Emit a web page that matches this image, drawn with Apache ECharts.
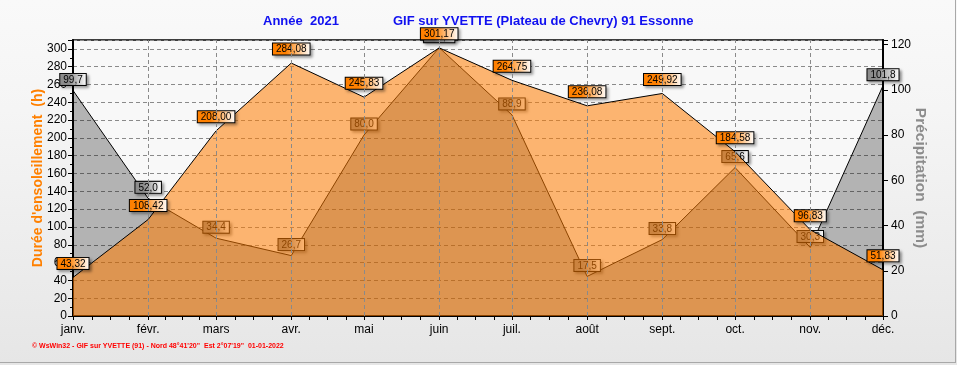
<!DOCTYPE html>
<html><head><meta charset="utf-8">
<script src="https://cdn.jsdelivr.net/npm/echarts@6/dist/echarts.min.js"></script>
<style>html,body{margin:0;padding:0;background:#f4f4f4}#c{width:957px;height:365px}</style>
</head><body><div id="c"></div>
<script>
const months = ['janv.','févr.','mars','avr.','mai','juin','juil.','août','sept.','oct.','nov.','déc.'];
const monthDates = ['2021-01-01','2021-02-01','2021-03-01','2021-04-01','2021-05-01','2021-06-01','2021-07-01','2021-08-01','2021-09-01','2021-10-01','2021-11-01','2021-12-01'];
const sunshine = [43.32,108.42,208.00,284.08,245.83,301.17,264.75,236.08,249.92,184.58,96.83,51.83];
const precipitation = [99.7,52.0,34.4,26.7,80.0,118.6,88.9,17.5,33.8,65.6,30.3,101.8];
const titleYear = 'Année  2021';
const titleStation = 'GIF sur YVETTE (Plateau de Chevry) 91 Essonne';
const footer = '\u00a9 WsWin32 - GIF sur YVETTE (91) - Nord 48\u00b041\'20"  Est 2\u00b007\'19"  01-01-2022';

// day index (days since Jan 1) of each month date
function dayOf(s){const p=s.split('-').map(Number);return Math.round((Date.UTC(p[0],p[1]-1,p[2])-Date.UTC(p[0],0,1))/86400000);}
const T = monthDates.map(dayOf);
const tickVals = [];
for (let i=0;i<T.length-1;i++){for(let k=0;k<4;k++){tickVals.push(T[i]+(T[i+1]-T[i])*k/4);}}
tickVals.push(T[T.length-1]);
function monthName(v){const i=T.findIndex(t=>Math.abs(t-v)<0.01);return i>=0?months[i]:'';}

function grad(c1,c2){return {type:'linear',x:0,y:0,x2:1,y2:0,colorStops:[{offset:0,color:c1},{offset:0.35,color:c1},{offset:1,color:c2}]};}
const baseLabel = {show:true,position:'top',fontSize:10,fontFamily:'Arial',color:'#000',borderColor:'#000',borderWidth:1,padding:[1,3,0,3],lineHeight:10,shadowColor:'rgba(0,0,0,0.35)',shadowBlur:3,shadowOffsetX:2,shadowOffsetY:2};

const chart = echarts.init(document.getElementById('c'));
chart.setOption({
  animation:false,
  backgroundColor:{type:'linear',x:0,y:0,x2:0,y2:1,colorStops:[{offset:0,color:'#F9F9F9'},{offset:0.3,color:'#F5F5F5'},{offset:1,color:'#E6E6E6'}]},
  title:[
    {text:titleYear,left:263,top:15,padding:0,textStyle:{color:'#1010F0',fontSize:13,fontWeight:'bold',fontFamily:'Arial'}},
    {text:titleStation,left:393,top:15,padding:0,textStyle:{color:'#1010F0',fontSize:13,fontWeight:'bold',fontFamily:'Arial'}}
  ],
  grid:{left:73,right:74,top:40,bottom:49,show:true,backgroundColor:'#F8F8F8',borderColor:'#000',borderWidth:1.5,outerBoundsMode:'none',containLabel:false},
  xAxis:{type:'value',min:T[0],max:T[T.length-1],
    axisLine:{show:true,onZero:false,lineStyle:{color:'#000',width:2}},
    axisTick:{show:true,customValues:tickVals,length:4,lineStyle:{color:'#000'}},
    axisLabel:{customValues:T,formatter:monthName,color:'#000',fontSize:12,fontFamily:'Arial',margin:8,hideOverlap:false},
    splitLine:{show:false}},
  yAxis:[
    {type:'value',min:0,max:310,interval:20,position:'left',
     name:"Durée d'ensoleillement  (h)",nameLocation:'middle',nameGap:28,nameRotate:90,nameMoveOverlap:false,
     nameTextStyle:{color:'#FF8000',fontWeight:'bold',fontSize:14,fontFamily:'Arial'},
     axisLine:{show:true,lineStyle:{color:'#000',width:2}},
     axisTick:{show:true,length:5,lineStyle:{color:'#000'}},
     minorTick:{show:true,splitNumber:2,length:3,lineStyle:{color:'#000'}},
     axisLabel:{formatter:v=>v>300?'':String(v),color:'#000',fontSize:12,fontFamily:'Arial',margin:6},
     splitLine:{show:true,lineStyle:{color:'#8a8a8a',type:[4,3],width:1}}},
    {type:'value',min:0,max:122,interval:20,position:'right',
     name:'Précipitation  (mm)',nameLocation:'middle',nameGap:29,nameRotate:-90,nameMoveOverlap:false,
     nameTextStyle:{color:'#8C8C8C',fontWeight:'bold',fontSize:15.5,fontFamily:'Arial'},
     axisLine:{show:true,lineStyle:{color:'#000',width:2}},
     axisTick:{show:true,length:5,lineStyle:{color:'#000'}},
     axisLabel:{formatter:v=>v>120?'':String(v),color:'#000',fontSize:12,fontFamily:'Arial',margin:8},
     splitLine:{show:false}}
  ],
  graphic:[
    {type:'text',left:32,top:343,style:{text:footer,fill:'#FF0000',font:'bold 7px Arial'}},
    {type:'line',shape:{x1:955.5,y1:0,x2:955.5,y2:363},style:{stroke:'#A8A8A8',lineWidth:1}},
    {type:'line',shape:{x1:0,y1:362.5,x2:956,y2:362.5},style:{stroke:'#A8A8A8',lineWidth:1}}
  ],
  series:[
    {type:'line',data:[],z:1,silent:true,
     markLine:{silent:true,symbol:['none','none'],label:{show:false},lineStyle:{type:[4,3],color:'#8a8a8a',width:1},
       data:T.slice(1,-1).map(t=>({xAxis:t}))}},
    {name:'Précipitation',type:'line',yAxisIndex:1,z:2,
     data:T.map((t,i)=>[t,precipitation[i]]),
     symbol:'circle',symbolSize:1,showSymbol:true,itemStyle:{color:'rgba(0,0,0,0)'},
     lineStyle:{color:'#000',width:1},areaStyle:{color:'rgba(0,0,0,0.28)',opacity:1,origin:'start'},
     label:Object.assign({},baseLabel,{distance:5,backgroundColor:grad('#8C8C8C','#FFFFFF'),formatter:p=>p.value[1].toFixed(1).replace('.',',')})},
    {name:'Ensoleillement',type:'line',yAxisIndex:0,z:3,
     data:T.map((t,i)=>[t,sunshine[i]]),
     symbol:'circle',symbolSize:1,showSymbol:true,itemStyle:{color:'rgba(0,0,0,0)'},
     lineStyle:{color:'#000',width:1},areaStyle:{color:'rgba(255,124,0,0.55)',opacity:1,origin:'start'},
     label:Object.assign({},baseLabel,{distance:8,backgroundColor:grad('#FF8000','#FFFFFF'),formatter:p=>p.value[1].toFixed(2).replace('.',',')})}
  ]
});
</script></body></html>
